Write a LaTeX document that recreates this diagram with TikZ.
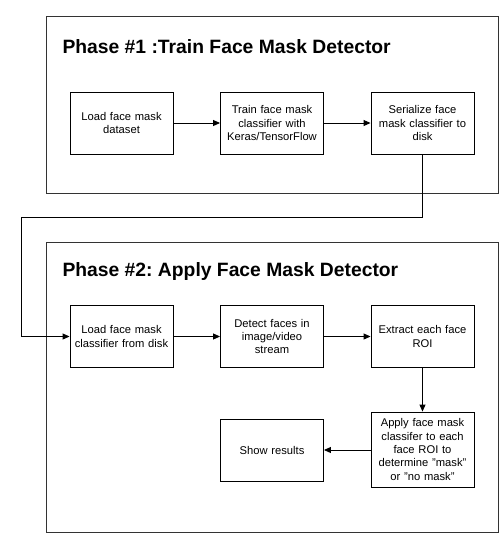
\documentclass[tikz,border=0pt]{standalone}
\usepackage{fontspec}
\setmainfont{Liberation Sans}
\usetikzlibrary{arrows.meta}
\frenchspacing

\tikzset{
    stepbox/.style={draw=black, line width=0.9pt, rectangle, minimum width=101pt, minimum height=62pt,
        inner sep=2pt, align=center, text width=99pt, font=\fontsize{11.2}{13.3}\selectfont},
    frame/.style={draw=black!80, line width=1pt},
    title/.style={anchor=west, font=\fontsize{19.3}{22}\selectfont\bfseries},
    arr/.style={-{Triangle[length=7pt,width=6pt]}, line width=0.9pt}
}

\begin{document}
\begin{tikzpicture}[x=1pt,y=-1pt]

    \useasboundingbox (0,0) rectangle (501,550);

    % Cornici delle fasi
    \draw[frame] (46,16) rectangle (498,193);
    \draw[frame] (46,242) rectangle (498,532);

    % Titoli
    \node[title] (titleA) at (59,47) {Phase \#1 :Train Face Mask Detector};
    \node[title] (titleB) at (59,272) {Phase \#2: Apply Face Mask Detector};

    % Fase 1
    \node[stepbox] (loaddata) at (121.5,123) {Load face mask\\dataset};
    \node[stepbox] (train) at (272,123) {Train face mask\\classifier with\\Keras/TensorFlow};
    \node[stepbox] (serial) at (422.5,123) {Serialize face\\mask classifier to\\disk};

    % Fase 2
    \node[stepbox] (loadclf) at (121.5,336.5) {Load face mask\\classifier from disk};
    \node[stepbox] (detect) at (272,336.5) {Detect faces in\\image/video\\stream};
    \node[stepbox] (extract) at (422.5,336.5) {Extract each face\\ROI};
    \node[stepbox, minimum height=75pt] (apply) at (422.5,449.5) {Apply face mask\\classifer to each\\face ROI to\\determine "mask"\\or "no mask"};
    \node[stepbox] (show) at (272,450) {Show results};

    % Collegamenti
    \draw[arr] (loaddata) -- (train);
    \draw[arr] (train) -- (serial);

    \coordinate (bendR) at (422.5,217);
    \coordinate (bendL) at (21,217);
    \draw[arr] (serial.south) -- (bendR) -- (bendL) |- (loadclf.west);

    \draw[arr] (loadclf) -- (detect);
    \draw[arr] (detect) -- (extract);
    \draw[arr] (extract) -- (apply);
    \draw[arr] (apply.west |- show.east) -- (show.east);

\end{tikzpicture}
\end{document}
